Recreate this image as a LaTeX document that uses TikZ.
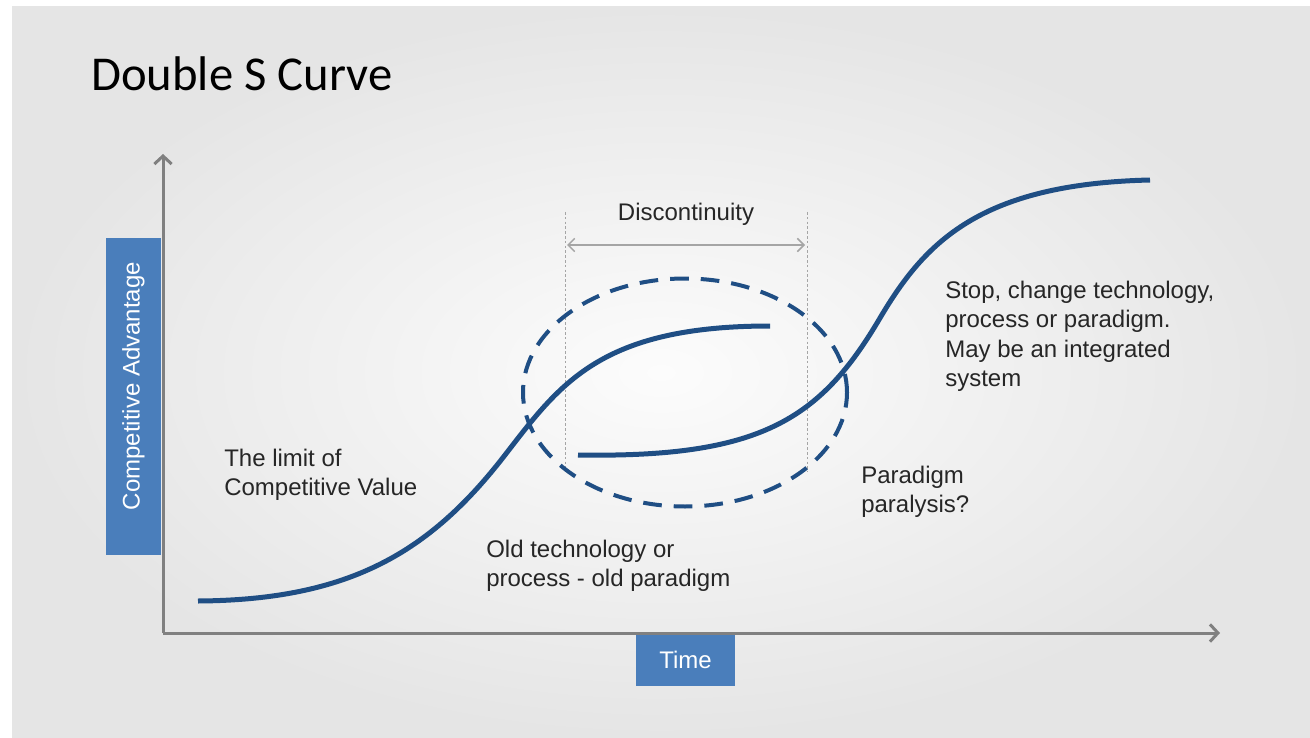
\documentclass[tikz,border=0pt]{standalone}
\usepackage{fontspec}
\setmainfont{Liberation Sans}
\newfontfamily\titlefont{Carlito}
\usetikzlibrary{arrows.meta,shapes.geometric}
\definecolor{curveblue}{RGB}{31,78,132}
\definecolor{boxblue}{RGB}{74,126,187}
\definecolor{axisgray}{RGB}{128,128,128}
\definecolor{textgray}{RGB}{38,38,38}
\definecolor{guidegray}{RGB}{165,165,165}
\definecolor{bgedge}{RGB}{229,229,229}
\definecolor{bgmid}{RGB}{252,252,252}
\begin{document}
\begin{tikzpicture}[x=0.75pt,y=-0.75pt,
  axisline/.style={draw=axisgray, line width=2.25pt, -{Straight Barb[length=6pt,width=13pt]}},
  scurve/.style={draw=curveblue, line width=3.75pt},
  guideline/.style={draw=guidegray, line width=0.7pt, dash pattern=on 2pt off 1.6pt},
  spanarrow/.style={draw=guidegray, line width=1.1pt, {Straight Barb[length=5pt,width=10pt]}-{Straight Barb[length=5pt,width=10pt]}},
  ringstyle/.style={ellipse, draw=curveblue, line width=3pt, dash pattern=on 14pt off 9pt, minimum width=243pt, minimum height=171pt, inner sep=0pt},
  lbl/.style={text=textgray, font=\fontsize{18}{22}\selectfont, align=left, inner sep=0pt, anchor=base west},
  bluebox/.style={fill=boxblue, inner sep=0pt},
  boxtext/.style={text=white, font=\fontsize{18}{22}\selectfont, inner sep=0pt}
]
\useasboundingbox (0,0) rectangle (1310,738);
\fill[white] (0,0) rectangle (1310,738);
\shade[inner color=bgmid, outer color=bgedge] (12,7) rectangle (1310,738);

% title
\node[anchor=base west, inner sep=0pt, font=\titlefont\fontsize{36.5}{40}\selectfont, text=black] (title) at (91,91) {Double S Curve};

% axis boxes
\node[bluebox, minimum width=41.25pt, minimum height=237.75pt] (ybox) at (133.5,396.5) {};
\node[boxtext, rotate=90] (ylabel) at (133.5,386) {Competitive Advantage};
\node[bluebox, minimum width=74.25pt, minimum height=39pt] (xbox) at (685.5,660) {};
\node[boxtext] (xlabel) at (xbox.center) {Time};

% axes
\coordinate (origin) at (163,633);
\coordinate (ytip) at (163,154);
\coordinate (xtip) at (1220,633);
\draw[axisline] (origin) -- (ytip);
\draw[axisline] (origin) -- (xtip);

% discontinuity guides
\coordinate (g1top) at (565,212);
\coordinate (g1bot) at (565,472);
\coordinate (g2top) at (807,212);
\coordinate (g2bot) at (807,472);
\draw[guideline] (g1top) -- (g1bot);
\draw[guideline] (g2top) -- (g2bot);
\coordinate (s1) at (567,245);
\coordinate (s2) at (805,245);
\draw[spanarrow] (s1) -- (s2);
\node[text=textgray, font=\fontsize{18}{22}\selectfont, inner sep=0pt, anchor=base] (disc) at (686,220) {Discontinuity};

% dashed ellipse
\node[ringstyle] (ring) at (685,392.5) {};

% first S curve
\coordinate (a0) at (198,601);
\coordinate (a1) at (505,455);
\coordinate (a2) at (770,326);
\draw[scurve] (a0) .. controls (350,600) and (430,552) .. (a1)
                   .. controls (560,384) and (600,326) .. (a2);

% second S curve
\coordinate (b0) at (578,455);
\coordinate (b1) at (880,318);
\coordinate (b2) at (1150,180);
\draw[scurve] (b0) .. controls (760,458) and (820,420) .. (b1)
                   .. controls (925,242) and (980,184) .. (b2);

% labels (anchor at baseline of last line)
\node[lbl] (limit) at (224,495.5) {The limit of\\Competitive Value};
\node[lbl] (old) at (486,586.5) {Old technology or\\process - old paradigm};
\node[lbl] (para) at (861,512.5) {Paradigm\\paralysis?};
\node[lbl] (stop) at (945,386.5) {Stop, change technology,\\process or paradigm.\\May be an integrated\\system};
\end{tikzpicture}
\end{document}
